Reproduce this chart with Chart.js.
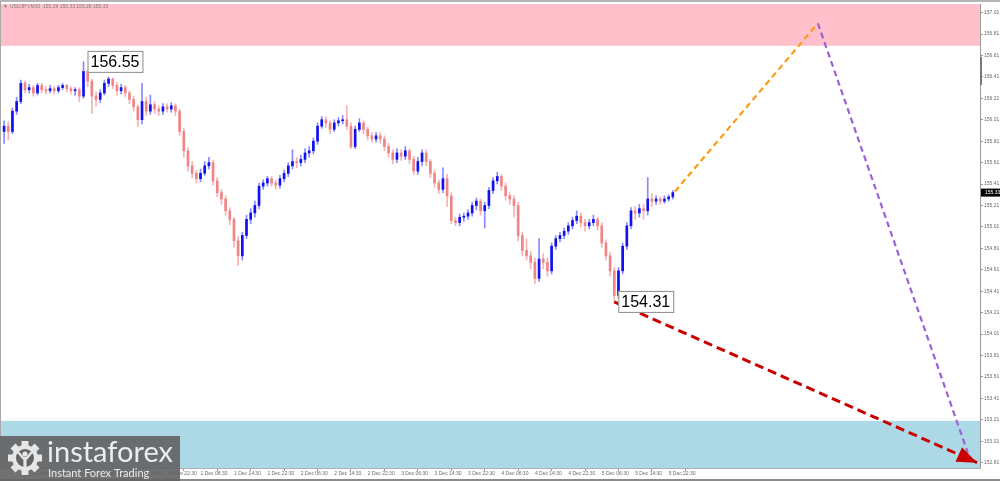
<!DOCTYPE html>
<html>
<head>
<meta charset="utf-8">
<script src="https://cdn.jsdelivr.net/npm/chart.js@4.4.1/dist/chart.umd.min.js"></script>
<style>
  html, body { margin: 0; padding: 0; background: #fff; overflow: hidden; }
  #wrap { position: relative; width: 1000px; height: 481px; }
</style>
</head>
<body>
<div id="wrap"><canvas id="chart" width="1000" height="481"></canvas></div>
<script>
// USDJPY M30, hourly candles (open = previous close)
const firstOpen = 155.90;
const closes = [155.95,155.90,156.09,156.18,156.35,156.29,156.31,156.26,156.33,156.29,
156.28,156.30,156.28,156.31,156.33,156.30,156.28,156.29,156.23,156.46,
156.37,156.23,156.20,156.26,156.35,156.39,156.33,156.28,156.31,156.26,
156.20,156.13,156.01,156.18,156.09,156.15,156.11,156.09,156.13,156.11,
156.14,156.09,155.90,155.72,155.58,155.51,155.46,155.51,155.58,155.61,
155.44,155.33,155.27,155.16,155.08,154.88,154.74,154.93,155.08,155.14,
155.21,155.39,155.42,155.46,155.42,155.40,155.46,155.51,155.58,155.62,
155.61,155.64,155.70,155.72,155.81,155.95,156.01,155.98,155.92,155.98,
156.00,156.01,155.95,155.76,155.92,155.98,155.92,155.86,155.83,155.86,
155.83,155.76,155.70,155.64,155.70,155.67,155.72,155.64,155.53,155.62,
155.70,155.62,155.51,155.42,155.36,155.46,155.30,155.07,155.05,155.10,
155.11,155.14,155.21,155.25,155.16,155.21,155.35,155.44,155.48,155.39,
155.30,155.27,155.21,154.93,154.79,154.74,154.68,154.53,154.71,154.68,
154.60,154.83,154.90,154.93,154.97,155.02,155.07,155.11,155.05,155.02,
155.05,155.08,155.02,154.86,154.74,154.60,154.37,154.60,154.83,155.02,
155.16,155.14,155.18,155.16,155.27,155.25,155.27,155.25,155.27,155.29,
155.33];
const highs = [156.00,155.99,156.12,156.22,156.38,156.37,156.34,156.33,156.35,156.35,
156.32,156.33,156.32,156.33,156.35,156.34,156.32,156.31,156.31,156.55,
156.48,156.39,156.27,156.29,156.38,156.41,156.40,156.36,156.34,156.33,
156.28,156.23,156.15,156.35,156.22,156.24,156.18,156.14,156.16,156.16,
156.17,156.16,156.11,155.93,155.75,155.62,155.54,155.55,155.62,155.66,
155.63,155.47,155.36,155.30,155.19,155.10,154.92,154.96,155.12,155.18,
155.25,155.42,155.45,155.48,155.48,155.45,155.49,155.54,155.61,155.73,
155.66,155.68,155.74,155.76,155.84,155.98,156.04,156.04,156.00,156.01,
156.03,156.05,156.14,155.98,155.95,156.02,156.00,155.94,155.89,155.89,
155.89,155.86,155.79,155.73,155.74,155.73,155.76,155.74,155.67,155.66,
155.73,155.73,155.64,155.54,155.45,155.56,155.50,155.33,155.10,155.13,
155.14,155.17,155.24,155.28,155.27,155.24,155.38,155.47,155.52,155.50,
155.42,155.33,155.30,155.24,154.96,154.90,154.78,154.72,154.90,154.76,
154.72,154.86,154.93,154.96,155.00,155.05,155.10,155.16,155.14,155.08,
155.08,155.12,155.10,155.05,154.89,154.77,154.63,154.63,154.86,155.05,
155.19,155.20,155.22,155.22,155.47,155.32,155.30,155.29,155.30,155.31,
155.35];
const lows = [155.79,155.82,155.88,156.06,156.16,156.26,156.26,156.23,156.24,156.26,
156.25,156.26,156.25,156.26,156.29,156.27,156.25,156.24,156.18,156.21,
156.32,156.07,156.14,156.17,156.24,156.32,156.30,156.24,156.25,156.22,
156.16,156.09,155.95,155.97,156.05,156.06,156.07,156.05,156.06,156.08,
156.08,156.05,155.86,155.66,155.53,155.47,155.42,155.43,155.49,155.55,
155.40,155.29,155.22,155.12,155.03,154.82,154.65,154.70,154.90,155.04,
155.10,155.18,155.36,155.39,155.39,155.36,155.37,155.43,155.48,155.55,
155.56,155.58,155.61,155.66,155.69,155.78,155.93,155.94,155.88,155.90,
155.95,155.97,155.92,155.74,155.74,155.90,155.88,155.82,155.80,155.80,
155.79,155.72,155.66,155.60,155.61,155.63,155.64,155.60,155.50,155.50,
155.58,155.58,155.47,155.38,155.32,155.33,155.20,155.04,155.02,155.02,
155.06,155.08,155.11,155.17,155.12,155.00,155.18,155.32,155.41,155.35,
155.26,155.22,155.10,154.88,154.74,154.70,154.62,154.48,154.50,154.62,
154.55,154.57,154.80,154.87,154.90,154.94,154.99,155.04,155.01,154.97,
154.99,155.02,154.98,154.82,154.70,154.55,154.31,154.34,154.57,154.80,
154.99,155.08,155.10,155.08,155.12,155.20,155.22,155.22,155.23,155.25,
155.27];

// time axis labels, keyed by candle slot
const timeLabels = ["27 Nov 14:30","27 Nov 22:30","28 Nov 06:30","28 Nov 14:30","30 Nov 22:30",
  "1 Dec 06:30","1 Dec 14:30","1 Dec 22:30","2 Dec 06:30","2 Dec 14:30","2 Dec 22:30",
  "3 Dec 06:30","3 Dec 14:30","3 Dec 22:30","4 Dec 06:30","4 Dec 14:30","4 Dec 22:30",
  "5 Dec 06:30","5 Dec 14:30","5 Dec 22:30"];
const labelSlots = [7,15,23,31,39,47,55,63,71,79,87,95,103,111,119,127,135,143,151,159];
const priceTicks = [152.81,153.01,153.21,153.41,153.61,153.81,154.01,154.21,154.41,154.61,154.81,
  155.01,155.21,155.41,155.61,155.81,156.01,156.21,156.41,156.61,156.81,157.01];

// forecast paths and zones
const pathUp = [{x:160.5, y:155.34}, {x:194.7, y:156.91}];
const pathDown = [{x:194.7, y:156.91}, {x:230.6, y:152.90}];
const pathMain = [{x:146, y:154.31}, {x:232.8, y:152.81}];
const sellZone = [156.70, 157.10];
const buyZone = [152.70, 153.20];
const peakMark = {slot:19, price:156.55};
const troughMark = {slot:146, price:154.31};
const lastPrice = 155.33;

const upBody = "#1010f0", upWick = "#8a8aff", dnBody = "#ef8585", dnWick = "#f5b3b3";

const opens = closes.map((c, i) => i === 0 ? firstOpen : closes[i - 1]);
const isUp = closes.map((c, i) => c >= opens[i]);

const decor = {
  id: "decor",
  beforeDraw(chart) {
    const { ctx } = chart;
    ctx.save();
    ctx.fillStyle = "#fff";
    ctx.fillRect(0, 0, chart.width, chart.height);
    ctx.restore();
  },
  beforeDatasetsDraw(chart) {
    const { ctx, chartArea: a, scales: { y } } = chart;
    ctx.save();
    ctx.fillStyle = "#ffc0cb";
    let t = Math.max(y.getPixelForValue(sellZone[1]), a.top), b = y.getPixelForValue(sellZone[0]);
    ctx.fillRect(0, t, a.right, b - t);
    ctx.fillStyle = "#add8e6";
    t = y.getPixelForValue(buyZone[1]); b = Math.min(y.getPixelForValue(buyZone[0]), a.bottom);
    ctx.fillRect(0, t, a.right, b - t);
    ctx.restore();
  },
  afterDatasetsDraw(chart) {
    const { ctx, scales: { x, y } } = chart;
    ctx.save();
    // arrow head on the main path
    const p0 = pathMain[pathMain.length - 2], p1 = pathMain[pathMain.length - 1];
    const x0 = x.getPixelForValue(p0.x), y0 = y.getPixelForValue(p0.y);
    const x1 = x.getPixelForValue(p1.x), y1 = y.getPixelForValue(p1.y);
    const ang = Math.atan2(y1 - y0, x1 - x0);
    ctx.translate(x1, y1);
    ctx.rotate(ang);
    ctx.fillStyle = "#c80000";
    ctx.beginPath();
    ctx.moveTo(0, 0);
    ctx.lineTo(-20, -8);
    ctx.lineTo(-20, 8);
    ctx.closePath();
    ctx.fill();
    ctx.restore();

    // price marks
    ctx.save();
    ctx.font = "16px 'Liberation Sans', Arial, sans-serif";
    ctx.textBaseline = "middle";
    [peakMark, troughMark].forEach(m => {
      const px = x.getPixelForValue(m.slot) + 4, py = y.getPixelForValue(m.price);
      const txt = m.price.toFixed(2);
      const w = ctx.measureText(txt).width + 6;
      ctx.fillStyle = "#fff";
      ctx.fillRect(px, py - 11, w, 22);
      ctx.strokeStyle = "#8a8a8a";
      ctx.lineWidth = 1;
      ctx.strokeRect(px + 0.5, py - 10.5, w, 21);
      ctx.fillStyle = "#000";
      ctx.fillText(txt, px + 3, py + 1);
    });
    ctx.restore();
  },
  afterDraw(chart) {
    const { ctx, chartArea: a, scales: { y } } = chart;
    ctx.save();
    // window frame
    ctx.fillStyle = "#b4b4b4";
    ctx.fillRect(0, 0, chart.width, 2);
    ctx.fillStyle = "#8c8c8c";
    ctx.fillRect(0, 479, chart.width, 2);
    ctx.fillStyle = "#a8a8a8";
    ctx.fillRect(0, 2, 1, a.bottom - 2);
    ctx.fillStyle = "#7a7a7a";
    ctx.fillRect(a.right, 57, 2, 28);

    // title
    ctx.fillStyle = "#7c7c7c";
    ctx.font = "5px 'Liberation Sans', Arial, sans-serif";
    ctx.textBaseline = "middle";
    ctx.fillText("\u25BC", 3, 7);
    ctx.fillText("USDJPY,M30  155.29 155.33 155.28 155.33", 10, 7);

    // last price box
    const ly = y.getPixelForValue(lastPrice);
    ctx.fillStyle = "#000";
    ctx.fillRect(a.right + 1, ly - 4, chart.width - a.right - 1, 8);
    ctx.fillStyle = "#fff";
    ctx.fillText(lastPrice.toFixed(2), a.right + 5, ly);

    // logo plate
    ctx.fillStyle = "rgba(98,98,98,0.9)";
    ctx.fillRect(0, 436, 180, 45);
    const gx = 25, gy = 458;
    ctx.fillStyle = "#e6e6e6";
    for (let k = 0; k < 8; k++) {
      ctx.save();
      ctx.translate(gx, gy);
      ctx.rotate(k * Math.PI / 4);
      ctx.fillRect(-3.5, -17, 7, 7);
      ctx.restore();
    }
    ctx.beginPath(); ctx.arc(gx, gy, 13, 0, Math.PI * 2); ctx.fill();
    ctx.fillStyle = "#646464";
    ctx.beginPath(); ctx.arc(gx, gy, 9, 0, Math.PI * 2); ctx.fill();
    ctx.fillStyle = "#e6e6e6";
    ctx.beginPath(); ctx.arc(gx, gy - 4, 2.6, 0, Math.PI * 2); ctx.fill();
    ctx.fillRect(gx - 1.6, gy - 1, 3.2, 12);
    ctx.strokeStyle = "#e6e6e6";
    ctx.lineWidth = 2.4;
    ctx.beginPath(); ctx.moveTo(gx - 7, gy - 6); ctx.lineTo(gx - 1, gy + 1); ctx.stroke();
    ctx.beginPath(); ctx.moveTo(gx + 7, gy - 6); ctx.lineTo(gx + 1, gy + 1); ctx.stroke();

    ctx.textBaseline = "alphabetic";
    ctx.fillStyle = "#ececec";
    ctx.font = "30px Lato, 'Open Sans', sans-serif";
    let w = ctx.measureText("instaforex").width;
    let fs = 30 * 126 / w;
    ctx.font = fs.toFixed(1) + "px Lato, 'Open Sans', sans-serif";
    ctx.fillText("instaforex", 47, 462);
    ctx.font = "12px Lato, 'Open Sans', sans-serif";
    w = ctx.measureText("Instant Forex Trading").width;
    fs = 12 * 101 / w;
    ctx.font = fs.toFixed(1) + "px Lato, 'Open Sans', sans-serif";
    ctx.fillText("Instant Forex Trading", 48, 477);
    ctx.restore();
  }
};

const wickData = closes.map((c, i) => ({ x: i, y: [lows[i], highs[i]] }));
const bodyData = closes.map((c, i) => ({ x: i, y: [opens[i], c] }));

new Chart(document.getElementById("chart"), {
  type: "bar",
  data: {
    datasets: [
      {
        data: wickData,
        backgroundColor: isUp.map(u => u ? upWick : dnWick),
        barThickness: 1,
        grouped: false,
        order: 3
      },
      {
        data: bodyData,
        backgroundColor: isUp.map(u => u ? upBody : dnBody),
        barThickness: 2,
        minBarLength: 1,
        grouped: false,
        order: 2
      },
      {
        type: "line", data: pathUp, borderColor: "#ff9a16", borderWidth: 2.2,
        borderDash: [6, 4], pointRadius: 0, fill: false, order: 1
      },
      {
        type: "line", data: pathDown, borderColor: "#9b62d8", borderWidth: 2.2,
        borderDash: [6, 4], pointRadius: 0, fill: false, order: 1
      },
      {
        type: "line", data: pathMain, borderColor: "#c80000", borderWidth: 3,
        borderDash: [9, 5], pointRadius: 0, fill: false, order: 0
      }
    ]
  },
  options: {
    responsive: false,
    animation: false,
    devicePixelRatio: 1,
    layout: { padding: { left: 2, top: 2, right: 0, bottom: 0 } },
    plugins: { legend: { display: false }, tooltip: { enabled: false } },
    scales: {
      x: {
        type: "linear",
        min: -0.5,
        max: 233.5,
        offset: false,
        grid: { drawOnChartArea: false, drawTicks: true, tickLength: 3, color: "#9a9a9a" },
        border: { display: true, color: "#b0b0b0" },
        afterBuildTicks(scale) { scale.ticks = labelSlots.map(v => ({ value: v })); },
        afterFit(scale) { scale.height = 13; },
        ticks: {
          autoSkip: false,
          maxRotation: 0,
          align: "start",
          padding: 0,
          color: "#6a6a6a",
          font: { size: 5, family: "'Liberation Sans', Arial, sans-serif" },
          callback(v) { const k = labelSlots.indexOf(v); return k >= 0 ? timeLabels[k] : ""; }
        }
      },
      y: {
        position: "right",
        min: 152.76,
        max: 157.09,
        grid: { drawOnChartArea: false, drawTicks: true, tickLength: 3, color: "#9a9a9a" },
        border: { display: true, color: "#9a9a9a" },
        afterBuildTicks(scale) { scale.ticks = priceTicks.map(v => ({ value: v })); },
        afterFit(scale) { scale.width = 20; },
        ticks: {
          padding: 1,
          color: "#6a6a6a",
          font: { size: 5, family: "'Liberation Sans', Arial, sans-serif" },
          callback(v) { return Number(v).toFixed(2); }
        }
      }
    }
  },
  plugins: [decor]
});
</script>
</body>
</html>
